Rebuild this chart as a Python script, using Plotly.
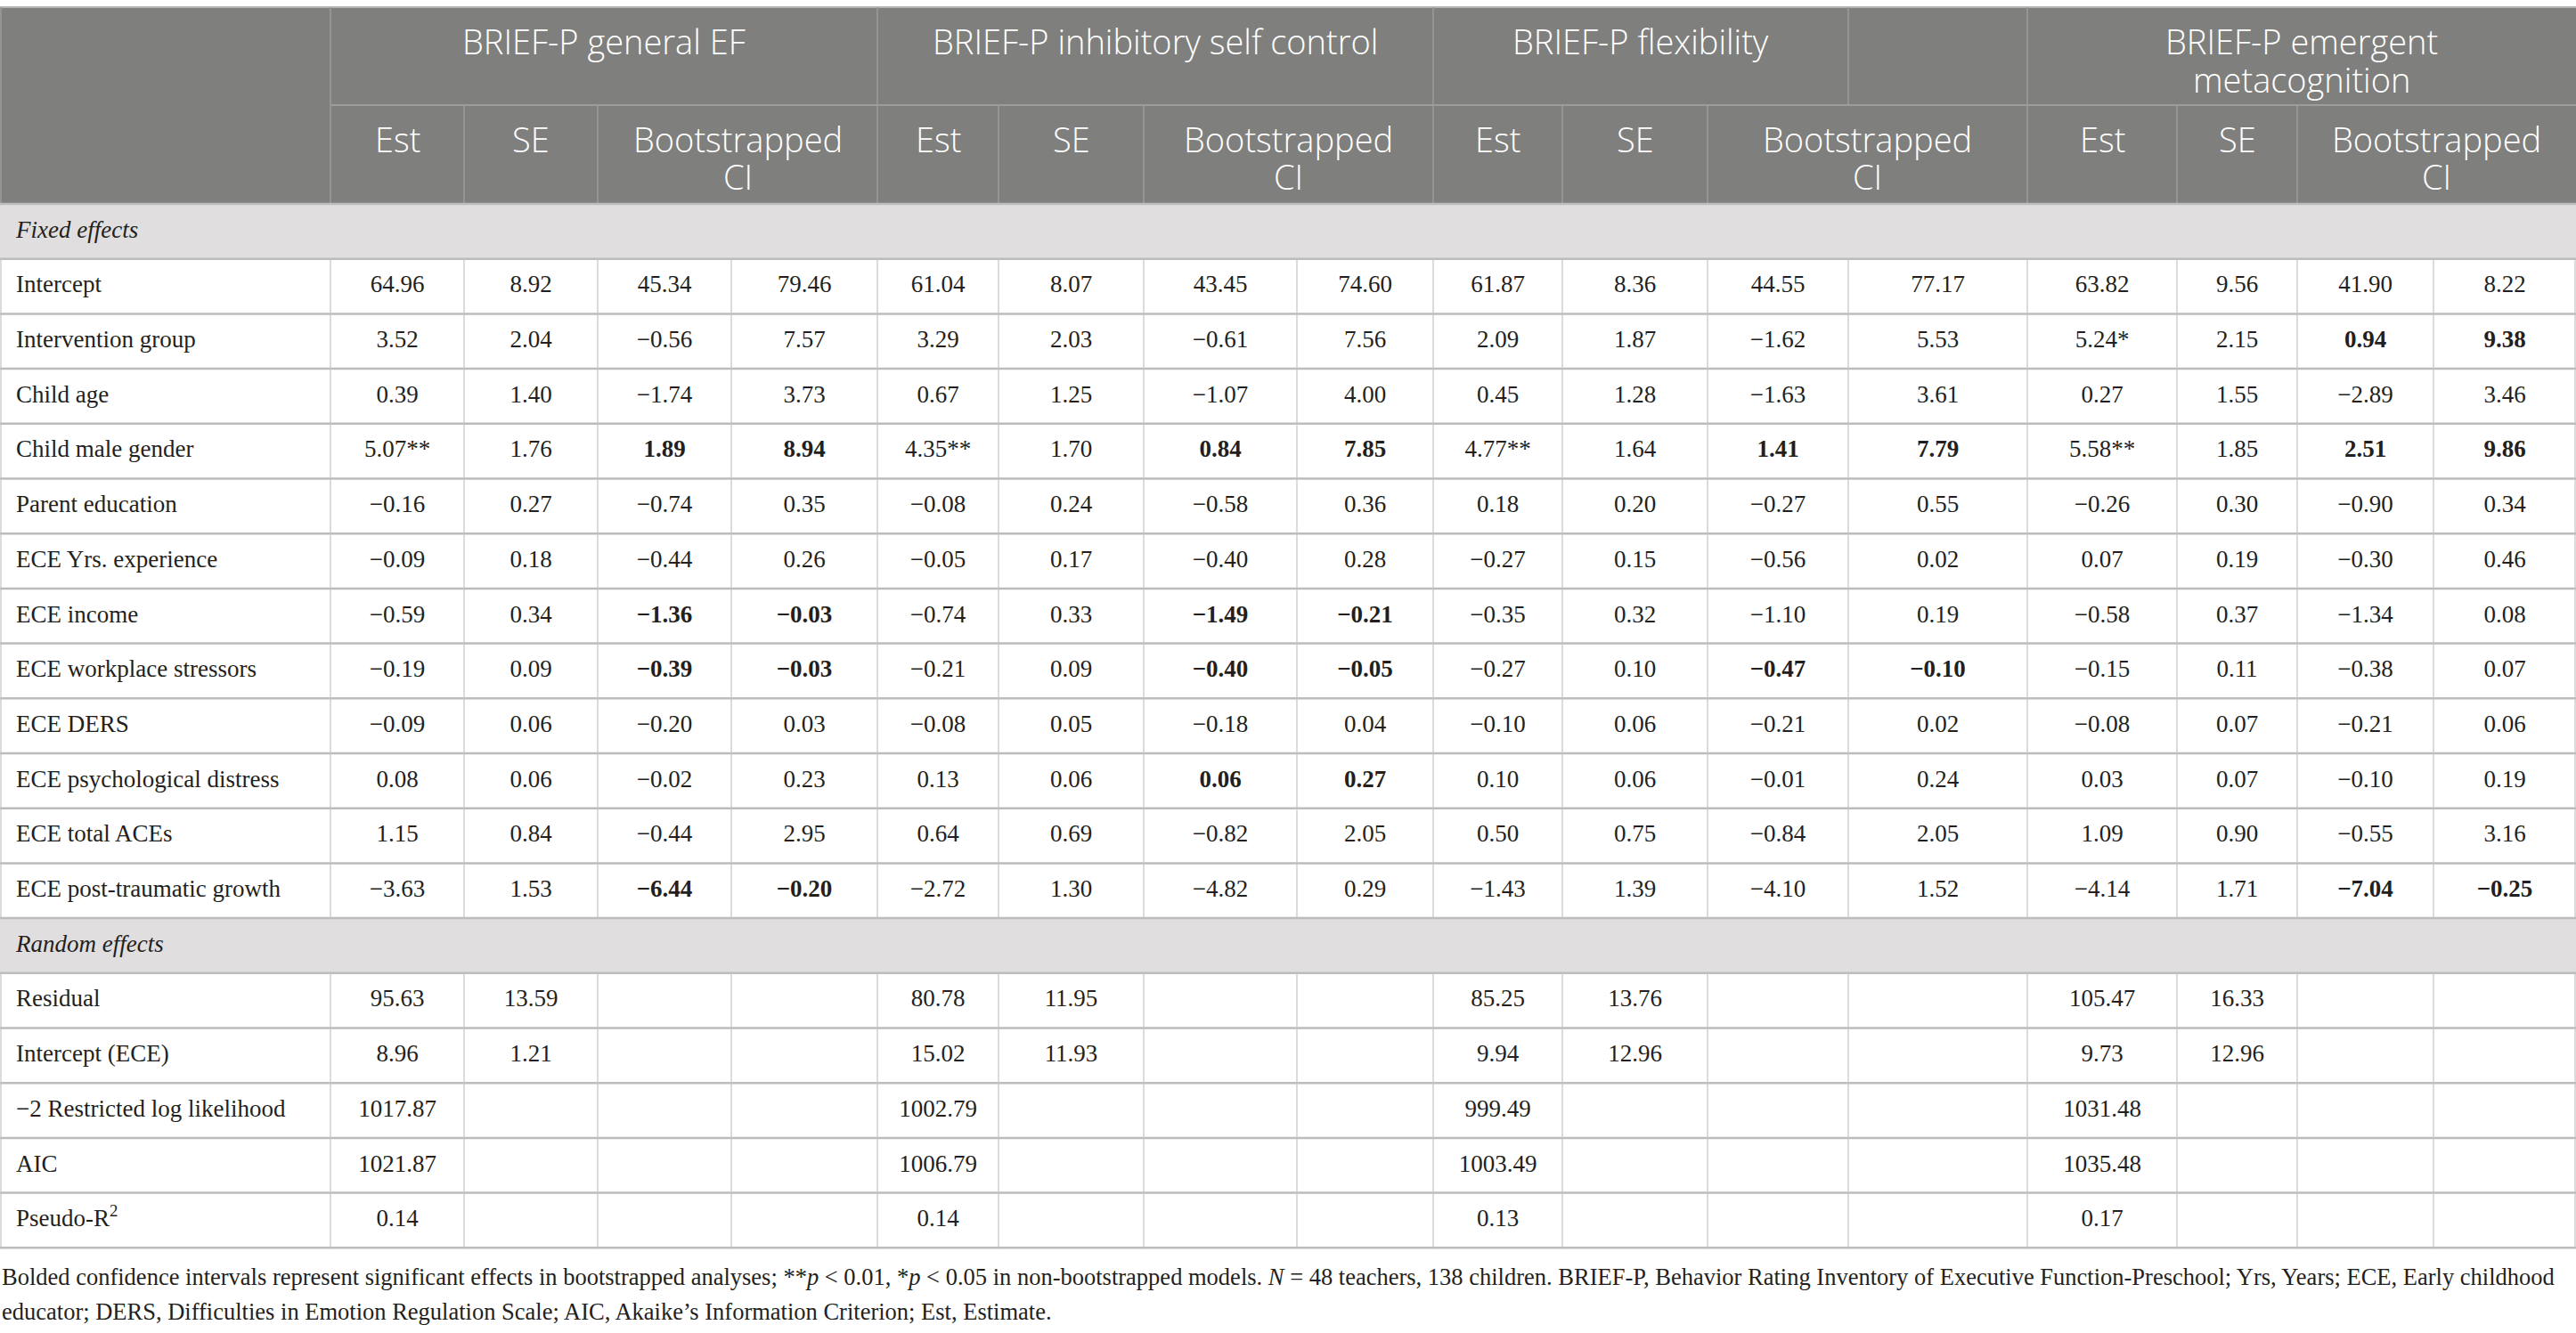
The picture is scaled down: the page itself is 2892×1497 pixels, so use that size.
import plotly.graph_objects as go

# ---------------- table content ----------------
outcomes = ["BRIEF-P general EF", "BRIEF-P inhibitory self control",
            "BRIEF-P flexibility", "BRIEF-P emergent<br>metacognition"]
sub_headers = ["Est", "SE", "Bootstrapped<br>CI"]

fixed_labels = ["Intercept", "Intervention group", "Child age", "Child male gender",
                "Parent education", "ECE Yrs. experience", "ECE income",
                "ECE workplace stressors", "ECE DERS", "ECE psychological distress",
                "ECE total ACEs", "ECE post-traumatic growth"]
random_labels = ["Residual", "Intercept (ECE)", "−2 Restricted log likelihood",
                 "AIC", "Pseudo-R<sup>2</sup>"]

# general EF
gef_est = ["64.96", "3.52", "0.39", "5.07**", "−0.16", "−0.09", "−0.59", "−0.19", "−0.09", "0.08", "1.15", "−3.63"]
gef_se = ["8.92", "2.04", "1.40", "1.76", "0.27", "0.18", "0.34", "0.09", "0.06", "0.06", "0.84", "1.53"]
gef_lo = ["45.34", "−0.56", "−1.74", "1.89", "−0.74", "−0.44", "−1.36", "−0.39", "−0.20", "−0.02", "−0.44", "−6.44"]
gef_hi = ["79.46", "7.57", "3.73", "8.94", "0.35", "0.26", "−0.03", "−0.03", "0.03", "0.23", "2.95", "−0.20"]
gef_sig = [3, 6, 7, 11]
gef_rand_est = ["95.63", "8.96", "1017.87", "1021.87", "0.14"]
gef_rand_se = ["13.59", "1.21", "", "", ""]

# inhibitory self control
isc_est = ["61.04", "3.29", "0.67", "4.35**", "−0.08", "−0.05", "−0.74", "−0.21", "−0.08", "0.13", "0.64", "−2.72"]
isc_se = ["8.07", "2.03", "1.25", "1.70", "0.24", "0.17", "0.33", "0.09", "0.05", "0.06", "0.69", "1.30"]
isc_lo = ["43.45", "−0.61", "−1.07", "0.84", "−0.58", "−0.40", "−1.49", "−0.40", "−0.18", "0.06", "−0.82", "−4.82"]
isc_hi = ["74.60", "7.56", "4.00", "7.85", "0.36", "0.28", "−0.21", "−0.05", "0.04", "0.27", "2.05", "0.29"]
isc_sig = [3, 6, 7, 9]
isc_rand_est = ["80.78", "15.02", "1002.79", "1006.79", "0.14"]
isc_rand_se = ["11.95", "11.93", "", "", ""]

# flexibility
flx_est = ["61.87", "2.09", "0.45", "4.77**", "0.18", "−0.27", "−0.35", "−0.27", "−0.10", "0.10", "0.50", "−1.43"]
flx_se = ["8.36", "1.87", "1.28", "1.64", "0.20", "0.15", "0.32", "0.10", "0.06", "0.06", "0.75", "1.39"]
flx_lo = ["44.55", "−1.62", "−1.63", "1.41", "−0.27", "−0.56", "−1.10", "−0.47", "−0.21", "−0.01", "−0.84", "−4.10"]
flx_hi = ["77.17", "5.53", "3.61", "7.79", "0.55", "0.02", "0.19", "−0.10", "0.02", "0.24", "2.05", "1.52"]
flx_sig = [3, 7]
flx_rand_est = ["85.25", "9.94", "999.49", "1003.49", "0.13"]
flx_rand_se = ["13.76", "12.96", "", "", ""]

# emergent metacognition
emc_est = ["63.82", "5.24*", "0.27", "5.58**", "−0.26", "0.07", "−0.58", "−0.15", "−0.08", "0.03", "1.09", "−4.14"]
emc_se = ["9.56", "2.15", "1.55", "1.85", "0.30", "0.19", "0.37", "0.11", "0.07", "0.07", "0.90", "1.71"]
emc_lo = ["41.90", "0.94", "−2.89", "2.51", "−0.90", "−0.30", "−1.34", "−0.38", "−0.21", "−0.10", "−0.55", "−7.04"]
emc_hi = ["8.22", "9.38", "3.46", "9.86", "0.34", "0.46", "0.08", "0.07", "0.06", "0.19", "3.16", "−0.25"]
emc_sig = [1, 3, 11]
emc_rand_est = ["105.47", "9.73", "1031.48", "1035.48", "0.17"]
emc_rand_se = ["16.33", "12.96", "", "", ""]

footnote = [
    "Bolded confidence intervals represent significant effects in bootstrapped analyses; "
    "**<i>p</i> < 0.01, *<i>p</i> < 0.05 in non-bootstrapped models. <i>N</i> = 48 teachers, 138 children. "
    "BRIEF-P, Behavior Rating Inventory of Executive Function-Preschool; Yrs, Years; ECE, Early childhood",
    "educator; DERS, Difficulties in Emotion Regulation Scale; AIC, Akaike’s Information Criterion; Est, Estimate.",
]

groups = [
    (gef_est, gef_se, gef_lo, gef_hi, gef_sig, gef_rand_est, gef_rand_se),
    (isc_est, isc_se, isc_lo, isc_hi, isc_sig, isc_rand_est, isc_rand_se),
    (flx_est, flx_se, flx_lo, flx_hi, flx_sig, flx_rand_est, flx_rand_se),
    (emc_est, emc_se, emc_lo, emc_hi, emc_sig, emc_rand_est, emc_rand_se),
]

# ---------------- layout (pixels) ----------------
W, H = 2892, 1497
col_x = [0, 371, 521, 671, 821, 985, 1121, 1284, 1456, 1609, 1754, 1917, 2075,
         2276, 2444, 2579, 2732, 2892]
top_y, h1_y, h2_y = 8, 118, 229
row_h = 61.7
n_rows = 1 + len(fixed_labels) + 1 + len(random_labels)
row_y = [h2_y + i * row_h for i in range(n_rows + 1)]
section_rows = [0, 1 + len(fixed_labels)]
# header row 1 spans (first col, last col)
top_spans = [(1, 4), (5, 8), (9, 11), (12, 12), (13, 16)]
top_titles = [outcomes[0], outcomes[1], outcomes[2], "", outcomes[3]]
head_line_y = [[46, 89], [156, 198]]

HEAD_BG = "#7f807e"
SECT_BG = "#e0dedf"
HEAD_LINE = "#9d9e9c"
BODY_LINE = "#bcbcbc"
TXT = "#231f20"
SERIF = "Liberation Serif"
SANS = "Open Sans"
BODY_SIZE = 27
HEAD_SIZE = 38

fig = go.Figure()
shapes = []

# header block and section fills
shapes.append(dict(type="rect", x0=0, x1=W, y0=top_y, y1=h2_y, fillcolor=HEAD_BG, line_width=0, layer="below"))
for r in section_rows:
    shapes.append(dict(type="rect", x0=0, x1=W, y0=row_y[r], y1=row_y[r + 1],
                       fillcolor=SECT_BG, line_width=0, layer="below"))

# header lines
shapes.append(dict(type="line", x0=0, x1=W, y0=top_y, y1=top_y, line=dict(color="#b5b5b5", width=2)))
shapes.append(dict(type="line", x0=col_x[1], x1=W, y0=h1_y, y1=h1_y, line=dict(color=HEAD_LINE, width=2)))
shapes.append(dict(type="line", x0=1, x1=1, y0=top_y, y1=h2_y, line=dict(color=HEAD_LINE, width=1.5)))
for a, b in top_spans:
    shapes.append(dict(type="line", x0=col_x[a], x1=col_x[a], y0=top_y, y1=h1_y, line=dict(color=HEAD_LINE, width=1.5)))
sub_edges = []
for k in range(4):
    base = 1 + 4 * k
    sub_edges += [col_x[base], col_x[base + 1], col_x[base + 2]]
for x in sub_edges:
    shapes.append(dict(type="line", x0=x, x1=x, y0=h1_y, y1=h2_y, line=dict(color=HEAD_LINE, width=1.5)))

# body lines
for i, y in enumerate(row_y):
    shapes.append(dict(type="line", x0=0, x1=W, y0=y, y1=y, line=dict(color=BODY_LINE, width=2.5)))
for r in range(n_rows):
    if r in section_rows:
        continue
    for x in col_x:
        x = min(max(x, 1), W - 1)
        shapes.append(dict(type="line", x0=x, x1=x, y0=row_y[r], y1=row_y[r + 1],
                           line=dict(color="#c4c4c4", width=1.2)))

# header texts (one annotation per text line)
ann = []


def head_text(xc, text, level):
    for i, part in enumerate(text.split("<br>")):
        ann.append(dict(x=xc, y=head_line_y[level][i], text=part, yanchor="middle",
                        font=dict(family=SANS, size=HEAD_SIZE, color="white", weight=300)))


for (a, b), t in zip(top_spans, top_titles):
    if t:
        head_text((col_x[a] + col_x[b + 1]) / 2, t, 0)
for k in range(4):
    base = 1 + 4 * k
    spans = [(base, base), (base + 1, base + 1), (base + 2, base + 3)]
    for (a, b), t in zip(spans, sub_headers):
        head_text((col_x[a] + col_x[b + 1]) / 2, t, 1)
for i, line in enumerate(footnote):
    ann.append(dict(x=0, y=1434 + i * 39, text=line, xanchor="left", yanchor="middle",
                    font=dict(family=SERIF, size=26.5, color=TXT)))
for a in ann:
    a.update(xref="x", yref="y", showarrow=False)

# row labels
row_labels = ["<i>Fixed effects</i>"] + fixed_labels + ["<i>Random effects</i>"] + random_labels
centers = [(row_y[i] + row_y[i + 1]) / 2 for i in range(n_rows)]
fig.add_trace(go.Scatter(x=[18] * n_rows, y=centers, text=row_labels, mode="text",
                         textposition="middle right", hoverinfo="skip",
                         textfont=dict(family=SERIF, size=BODY_SIZE, color=TXT)))

# cell values
for k, (est, se, lo, hi, sig, r_est, r_se) in enumerate(groups):
    lo_t = [f"<b>{v}</b>" if i in sig else v for i, v in enumerate(lo)]
    hi_t = [f"<b>{v}</b>" if i in sig else v for i, v in enumerate(hi)]
    cols = [
        [""] + est + [""] + r_est,
        [""] + se + [""] + r_se,
        [""] + lo_t + [""] + [""] * len(random_labels),
        [""] + hi_t + [""] + [""] * len(random_labels),
    ]
    for j, col in enumerate(cols):
        c = 1 + 4 * k + j
        xc = (col_x[c] + col_x[c + 1]) / 2
        ys = [centers[i] for i, v in enumerate(col) if v]
        txt = [v for v in col if v]
        if not txt:
            continue
        fig.add_trace(go.Scatter(x=[xc] * len(ys), y=ys, text=txt, mode="text",
                                 textposition="middle center", hoverinfo="skip",
                                 textfont=dict(family=SERIF, size=BODY_SIZE, color=TXT)))

fig.update_layout(
    width=W, height=H, margin=dict(l=0, r=0, t=0, b=0),
    paper_bgcolor="white", plot_bgcolor="white", showlegend=False,
    xaxis=dict(range=[0, W], visible=False, fixedrange=True),
    yaxis=dict(range=[H, 0], visible=False, fixedrange=True),
    shapes=shapes, annotations=ann,
)

fig.write_html("out.html", config={"displayModeBar": False},
               post_script="document.body.style.margin='0';")
